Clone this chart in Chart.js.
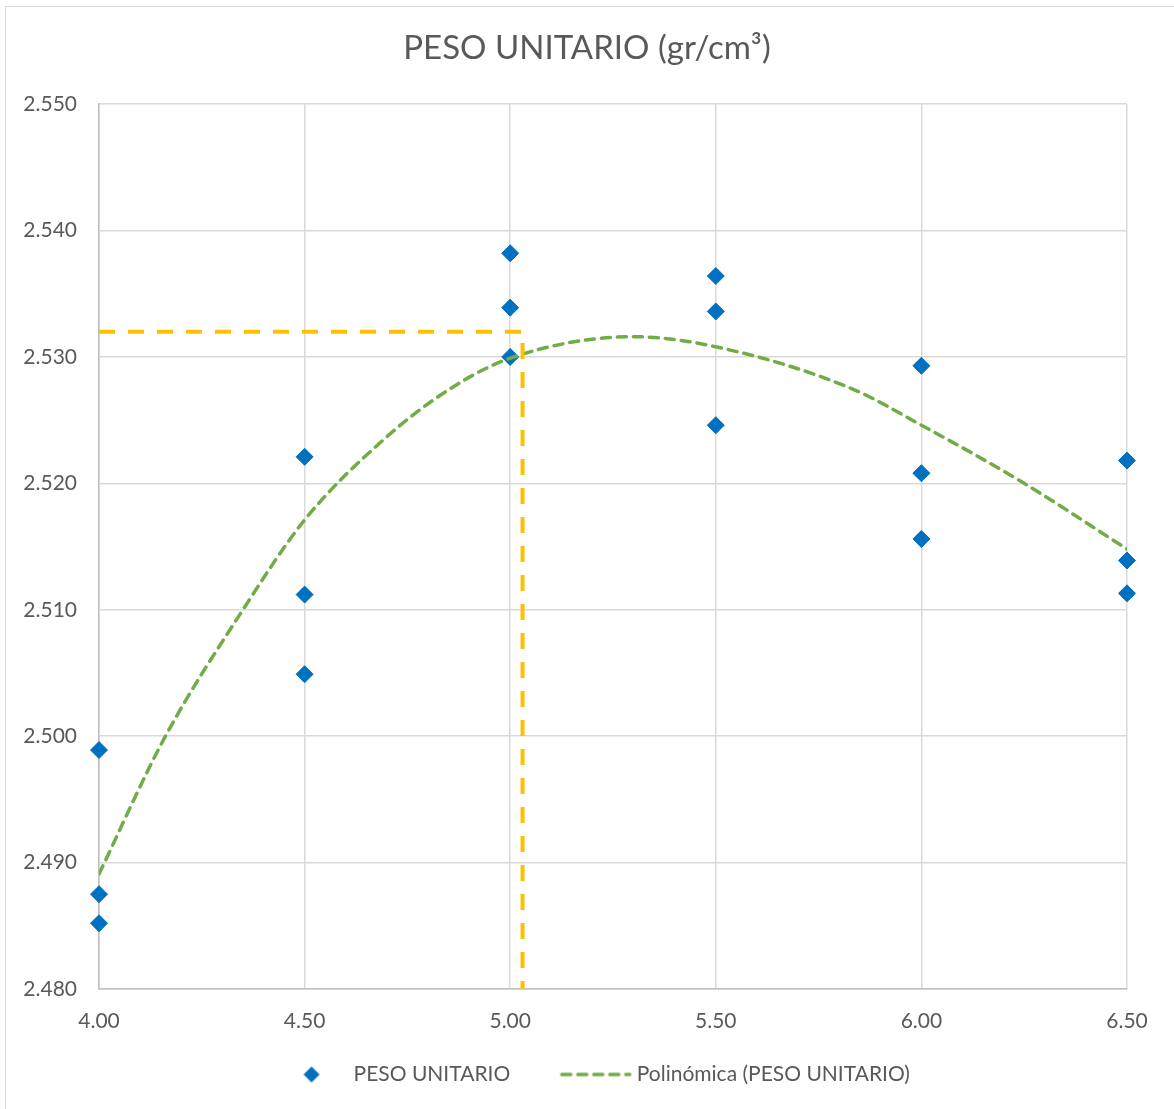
<!DOCTYPE html>
<html>
<head>
<meta charset="utf-8">
<script src="https://cdn.jsdelivr.net/npm/chart.js@4.4.1/dist/chart.umd.min.js"></script>
<style>
  html, body { margin: 0; padding: 0; background: #ffffff; }
  #wrap { position: relative; width: 1174px; height: 1109px; overflow: hidden; }
  #frame { position: absolute; left: 5px; top: 6px; width: 1400px; height: 1400px; border-left: 1px solid #D9D9D9; border-top: 1px solid #D9D9D9; pointer-events: none; }
  canvas { position: absolute; left: 0; top: 0; }
</style>
</head>
<body>
<div id="wrap">
  <canvas id="c" width="1174" height="1109"></canvas>
  <div id="frame"></div>
</div>
<script>
// ---- data ----
const chartTitle = 'PESO UNITARIO (gr/cm³)';
const seriesLabel = 'PESO UNITARIO';
const trendLabel = 'Polinómica (PESO UNITARIO)';

const asphaltContent = [4.00, 4.00, 4.00, 4.50, 4.50, 4.50, 5.00, 5.00, 5.00,
                        5.50, 5.50, 5.50, 6.00, 6.00, 6.00, 6.50, 6.50, 6.50];
const unitWeight = [2.4989, 2.4875, 2.4852, 2.5221, 2.5112, 2.5049, 2.5382, 2.5339, 2.5300,
                    2.5364, 2.5336, 2.5246, 2.5293, 2.5208, 2.5156, 2.5218, 2.5139, 2.5113];

const trendX = [4.00, 4.16, 4.35, 4.50, 4.69, 4.85, 5.00, 5.30, 5.50, 5.83, 6.00, 6.25, 6.50];
const trendY = [2.4891, 2.4999, 2.5100, 2.5171, 2.5234, 2.5274, 2.5299, 2.5316, 2.5308, 2.5275, 2.5246, 2.5200, 2.5148];

const guideX = [4.00, 5.03, 5.03];
const guideY = [2.532, 2.532, 2.480];

const xMin = 4.0, xMax = 6.5, xStep = 0.5;
const yMin = 2.48, yMax = 2.55, yStep = 0.01;

// ---- build ----
const toPts = (xs, ys) => xs.map((x, i) => ({ x: x, y: ys[i] }));

const FONT = 'Lato, "Noto Sans", sans-serif';
const TEXT = '#595959';
const legendFs = 21;
const legendBoxW = 106;

function legendCanvas(drawFn) {
  const R = legendBoxW / 2 + legendFs / 2 + 4;
  const cv = document.createElement('canvas');
  cv.width = Math.round(2 * R);
  cv.height = 24;
  const ctx = cv.getContext('2d');
  drawFn(ctx, cv.width / 2, cv.height / 2, legendBoxW / 2 + legendFs / 2);
  return cv;
}
const diamondIcon = legendCanvas((ctx, cx, cy, textRel) => {
  const x = cx + textRel - 42, r = 8;
  ctx.fillStyle = '#0070C0';
  ctx.beginPath();
  ctx.moveTo(x - r, cy); ctx.lineTo(x, cy - r); ctx.lineTo(x + r, cy); ctx.lineTo(x, cy + r);
  ctx.closePath(); ctx.fill();
});
const dashIcon = legendCanvas((ctx, cx, cy, textRel) => {
  const end = cx + textRel - 7, start = end - 68;
  ctx.strokeStyle = '#70AD47';
  ctx.lineWidth = 3.5;
  ctx.lineCap = 'round';
  ctx.setLineDash([9, 7]);
  ctx.beginPath(); ctx.moveTo(start, cy); ctx.lineTo(end, cy); ctx.stroke();
});

const legendShift = {
  id: 'legendShift',
  afterLayout(chart) { if (chart.legend) chart.legend.left -= 27; }
};

new Chart(document.getElementById('c'), {
  type: 'scatter',
  plugins: [legendShift],
  data: {
    datasets: [
      {
        label: trendLabel,
        data: toPts(trendX, trendY),
        showLine: true,
        pointRadius: 0,
        borderColor: '#70AD47',
        borderWidth: 3.5,
        borderDash: [9, 7],
        borderCapStyle: 'round',
        cubicInterpolationMode: 'monotone',
        order: 1
      },
      {
        label: 'guide',
        data: toPts(guideX, guideY),
        showLine: true,
        pointRadius: 0,
        borderColor: '#FFC000',
        borderWidth: 4,
        borderDash: [16, 13],
        tension: 0,
        order: 0
      },
      {
        label: seriesLabel,
        data: toPts(asphaltContent, unitWeight),
        showLine: false,
        clip: false,
        pointStyle: 'rectRot',
        pointRadius: 8.5,
        pointHoverRadius: 8.5,
        backgroundColor: '#0070C0',
        borderColor: '#0070C0',
        borderWidth: 1,
        order: 2
      }
    ]
  },
  options: {
    responsive: false,
    animation: false,
    devicePixelRatio: 1,
    layout: { padding: { top: 12, left: 0, right: 0, bottom: 14 } },
    plugins: {
      title: {
        display: true,
        text: chartTitle,
        color: TEXT,
        font: { family: FONT, size: 33, weight: 'normal', lineHeight: 1.2 },
        padding: { top: 16.5, bottom: 36 }
      },
      legend: {
        position: 'bottom',
        labels: {
          usePointStyle: true,
          pointStyleWidth: legendBoxW,
          padding: 10,
          color: TEXT,
          font: { family: FONT, size: legendFs },
          generateLabels: () => [
            { text: seriesLabel, pointStyle: diamondIcon, fillStyle: '#0070C0', strokeStyle: '#0070C0', lineWidth: 0, datasetIndex: 2, fontColor: TEXT },
            { text: trendLabel, pointStyle: dashIcon, fillStyle: '#70AD47', strokeStyle: '#70AD47', lineWidth: 0, datasetIndex: 0, fontColor: TEXT }
          ]
        }
      },
      tooltip: { enabled: false }
    },
    scales: {
      x: {
        type: 'linear',
        min: xMin, max: xMax,
        afterFit: (s) => { s.height = 65; },
        ticks: {
          stepSize: xStep,
          color: TEXT,
          padding: 20,
          font: { family: FONT, size: 21 },
          callback: (v) => Number(v).toFixed(2)
        },
        grid: { color: '#D9D9D9', lineWidth: 1.5, drawTicks: false },
        border: { color: '#BFBFBF', width: 1.5 }
      },
      y: {
        type: 'linear',
        min: yMin, max: yMax,
        afterFit: (s) => { s.width = 99; },
        ticks: {
          stepSize: yStep,
          color: TEXT,
          padding: 22,
          font: { family: FONT, size: 21 },
          callback: (v) => Number(v).toFixed(3)
        },
        grid: { color: '#D9D9D9', lineWidth: 1.5, drawTicks: false },
        border: { color: '#BFBFBF', width: 1.5 }
      },
      yRightSpace: {
        type: 'linear',
        position: 'right',
        min: yMin, max: yMax,
        afterFit: (s) => { s.width = 47; },
        ticks: { display: false },
        grid: { display: false, drawTicks: false },
        border: { display: false }
      }
    }
  }
});
</script>
</body>
</html>
